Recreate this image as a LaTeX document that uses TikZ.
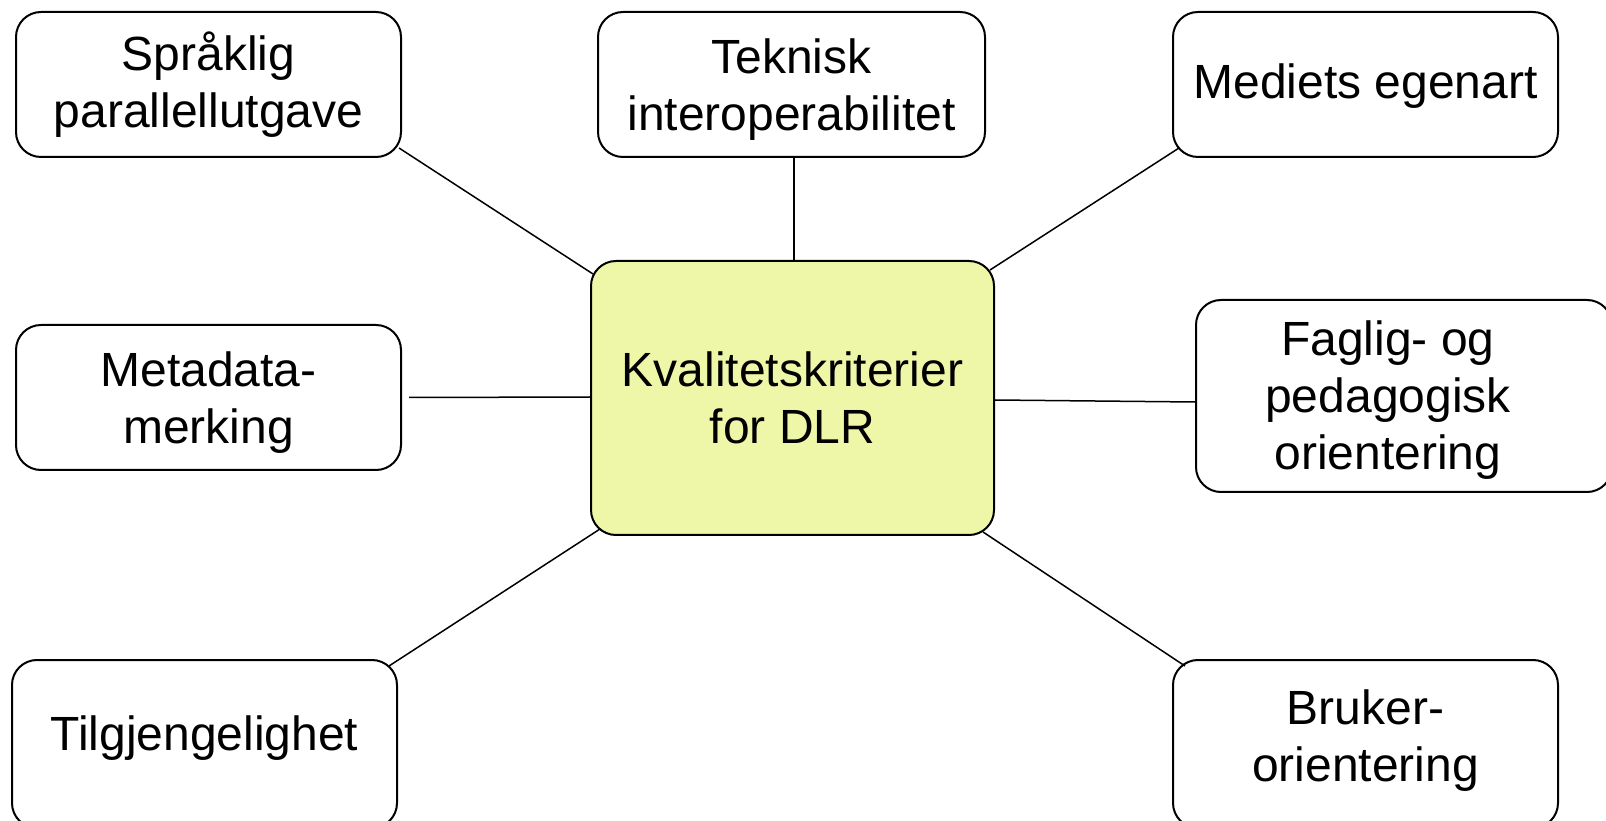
\documentclass[tikz,border=0pt]{standalone}
\usepackage{fontspec}
\setmainfont{Liberation Sans}
\usetikzlibrary{calc}
\definecolor{centrefill}{RGB}{238,247,168}
\newcommand{\shifttext}[2]{\raisebox{#1}[\height][\depth]{\begin{tabular}{@{}c@{}}#2\end{tabular}}}
\tikzset{
  box/.style={draw=black, line width=1pt, rounded corners=12.5pt, fill=white,
    align=center, inner sep=0pt, font=\fontsize{24}{28.5}\selectfont},
  link/.style={draw=black, line width=0.75pt}
}
\begin{document}
\begin{tikzpicture}[x=1pt,y=1pt]
\useasboundingbox (0,0) rectangle (803,410);
% boxes
\node[box, minimum width=192.5pt, minimum height=72.5pt] (spr) at (104.25,367.75) {\shifttext{-1.5pt}{Språklig\\parallellutgave}};
\node[box, minimum width=193.5pt, minimum height=72.5pt] (tek) at (395.75,367.75) {\shifttext{-3pt}{Teknisk\\interoperabilitet}};
\node[box, minimum width=192.5pt, minimum height=72.5pt] (med) at (682.75,367.75) {\shifttext{-1.5pt}{Mediets egenart}};
\node[box, minimum width=192.5pt, minimum height=72.5pt] (met) at (104.25,211.25) {\shifttext{-3pt}{Metadata-\\merking}};
\node[box, minimum width=208pt, minimum height=96pt] (fag) at (702,212) {};
\node[align=center, inner sep=0pt, font=\fontsize{24}{28.5}\selectfont] (fagtext) at (694,210) {Faglig- og\\pedagogisk\\orientering};
\node[box, minimum width=192.5pt, minimum height=84pt] (til) at (102.25,38) {\shifttext{2.5pt}{Tilgjengelighet}};
\node[box, minimum width=192.5pt, minimum height=84pt] (bru) at (682.75,38) {\shifttext{1pt}{Bruker-\\orientering}};
\node[box, fill=centrefill, minimum width=201.5pt, minimum height=137pt] (ctr) at (396.25,211) {Kvalitetskriterier\\for DLR};
% connectors
\draw[link] ($(spr.south east)+(-1.5,5)$) -- ($(ctr.north west)+(1.5,-7)$);
\draw[link] ($(tek.south)+(1.25,0)$) -- ($(ctr.north)+(0.75,0)$);
\draw[link] ($(med.south west)+(3.5,5)$) -- ($(ctr.north east)+(-2.5,-5)$);
\draw[link] ($(met.east)+(3.5,0)$) -- ($(ctr.west)+(0,0.5)$);
\draw[link] ($(ctr.east)+(0,-1)$) -- ($(fag.west)+(0,-3)$);
\draw[link] ($(til.north east)+(-4.5,-3.5)$) -- ($(ctr.south west)+(5,3.5)$);
\draw[link] ($(bru.north west)+(6.5,-3.5)$) -- ($(ctr.south east)+(-6,2)$);
\end{tikzpicture}
\end{document}
